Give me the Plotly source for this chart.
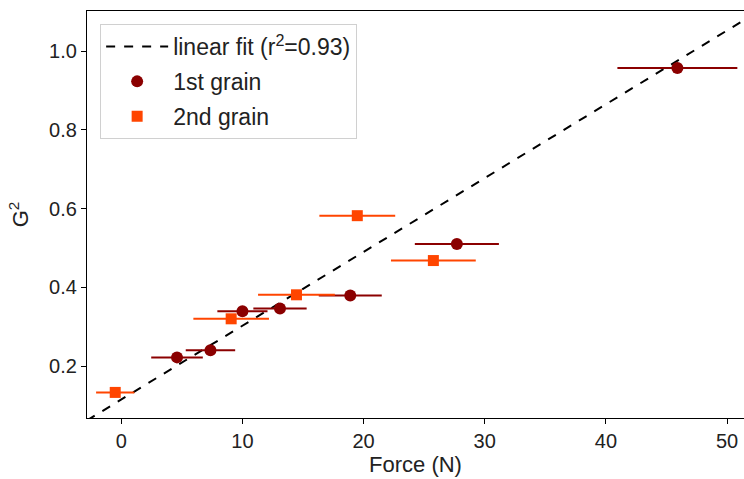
import plotly.graph_objects as go

# 1st grain
force1 = [4.6, 7.36, 10.0, 13.1, 18.9, 27.7, 45.9]
force1_err = [2.13, 2.04, 2.07, 2.2, 2.6, 3.47, 4.95]
g2_1 = [0.222, 0.240, 0.339, 0.346, 0.379, 0.510, 0.957]

# 2nd grain
force2 = [-0.5, 9.07, 14.46, 19.48, 25.76]
force2_err = [1.58, 3.12, 3.17, 3.13, 3.5]
g2_2 = [0.133, 0.320, 0.381, 0.582, 0.468]

# linear fit
fit_slope = 0.01875
fit_intercept = 0.115
fit_x = [-2.83, 51.6]
fit_y = [fit_intercept + fit_slope * x for x in fit_x]

x_range = [-2.83, 51.4]
y_range = [0.068, 1.102]
x_ticks = [0, 10, 20, 30, 40, 50]
y_ticks = [0.2, 0.4, 0.6, 0.8, 1.0]

FONT = "Liberation Sans, Arial, sans-serif"

fig = go.Figure()
fig.add_trace(go.Scatter(
    x=fit_x, y=fit_y, mode="lines",
    line=dict(color="black", width=2, dash="dash"),
    name="linear fit (r<sup>2</sup>=0.93)", legendgroup="a",
))
fig.add_trace(go.Scatter(
    x=force1, y=g2_1, mode="markers",
    marker=dict(symbol="circle", size=12, color="#8B0000"),
    error_x=dict(type="data", array=force1_err, color="#8B0000", thickness=2, width=0),
    name="1st grain", legendgroup="b",
))
fig.add_trace(go.Scatter(
    x=force2, y=g2_2, mode="markers",
    marker=dict(symbol="square", size=11, color="#FF4500"),
    error_x=dict(type="data", array=force2_err, color="#FF4500", thickness=2, width=0),
    name="2nd grain", legendgroup="c",
))

fig.update_layout(
    width=744, height=479,
    margin=dict(l=87, r=0, t=11, b=61),
    paper_bgcolor="white", plot_bgcolor="white",
    font=dict(family=FONT, size=20, color="#222222"),
    showlegend=True,
    legend=dict(
        x=0.02, y=0.968, xanchor="left", yanchor="top",
        bgcolor="rgba(255,255,255,0.8)", bordercolor="#d0d0d0", borderwidth=1,
        font=dict(family=FONT, size=23, color="#222222"),
        itemwidth=62, tracegroupgap=2,
    ),
    xaxis=dict(
        range=x_range, tickvals=x_ticks, showgrid=False, zeroline=False,
        showline=True, linecolor="black", linewidth=1.2, mirror=True,
        ticks="outside", ticklen=5, tickcolor="black",
        title=dict(text="Force (N)", standoff=4, font=dict(size=22)),
        tickfont=dict(size=20),
    ),
    yaxis=dict(
        range=y_range, tickvals=y_ticks, tickformat=".1f", showgrid=False, zeroline=False,
        showline=True, linecolor="black", linewidth=1.2,
        ticks="outside", ticklen=5, tickcolor="black",
        title=dict(text="G<sup>2</sup>", standoff=14, font=dict(size=22)),
        tickfont=dict(size=20),
    ),
)

fig.write_html("out.html")
